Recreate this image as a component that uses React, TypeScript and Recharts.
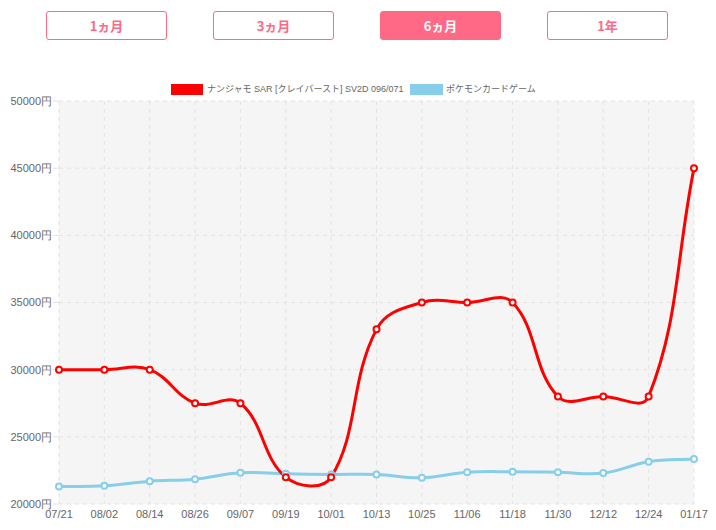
import React from 'react';
import { LineChart, Line, XAxis, YAxis, CartesianGrid } from 'recharts';

const dates = ['07/21', '08/02', '08/14', '08/26', '09/07', '09/19', '10/01', '10/13', '10/25', '11/06', '11/18', '11/30', '12/12', '12/24', '01/17'];
const nanjamoPrices = [30000, 30000, 30000, 27500, 27500, 22000, 22000, 33000, 35000, 35000, 35000, 28000, 28000, 28000, 45000];
const pokecaIndex = [21300, 21350, 21700, 21850, 22330, 22250, 22200, 22200, 21960, 22360, 22400, 22360, 22300, 23150, 23350];
const yTicks = [20000, 25000, 30000, 35000, 40000, 45000, 50000];
const periodButtons = ['1ヵ月', '3ヵ月', '6ヵ月', '1年'];
const activeButton = '6ヵ月';
const seriesNames = ['ナンジャモ SAR [クレイバースト] SV2D 096/071', 'ポケモンカードゲーム'];

const data = dates.map((d, i) => ({ date: d, nanjamo: nanjamoPrices[i], pokeca: pokecaIndex[i] }));

const PINK = '#ff6985';
const RED = '#ff0000';
const BLUE = '#87ceeb';

// Chart.js-style cardinal spline (tension 0.4)
function chartJsCurve(context: any) {
  let pts: number[][] = [];
  const t = 0.4;
  return {
    areaStart() {},
    areaEnd() {},
    lineStart() { pts = []; },
    point(x: number, y: number) { pts.push([+x, +y]); },
    lineEnd() {
      const n = pts.length;
      if (!n) return;
      context.moveTo(pts[0][0], pts[0][1]);
      if (n === 1) return;
      const cpPrev: number[][] = [];
      const cpNext: number[][] = [];
      for (let i = 0; i < n; i++) {
        const cur = pts[i];
        const prev = i > 0 ? pts[i - 1] : cur;
        const next = i < n - 1 ? pts[i + 1] : cur;
        const d01 = Math.hypot(cur[0] - prev[0], cur[1] - prev[1]);
        const d12 = Math.hypot(next[0] - cur[0], next[1] - cur[1]);
        let s01 = d01 / (d01 + d12);
        let s12 = d12 / (d01 + d12);
        if (isNaN(s01)) s01 = 0;
        if (isNaN(s12)) s12 = 0;
        const fa = t * s01;
        const fb = t * s12;
        cpPrev.push([cur[0] - fa * (next[0] - prev[0]), cur[1] - fa * (next[1] - prev[1])]);
        cpNext.push([cur[0] + fb * (next[0] - prev[0]), cur[1] + fb * (next[1] - prev[1])]);
      }
      for (let i = 0; i < n - 1; i++) {
        context.bezierCurveTo(cpNext[i][0], cpNext[i][1], cpPrev[i + 1][0], cpPrev[i + 1][1], pts[i + 1][0], pts[i + 1][1]);
      }
    },
  };
}

const tickStyle = { fill: '#666', fontSize: 11, fontFamily: '"Liberation Sans", Arial, sans-serif' };
const legendTextStyle: React.CSSProperties = {
  position: 'absolute',
  top: 83,
  fontSize: 9,
  color: '#666',
  lineHeight: '13px',
  whiteSpace: 'nowrap',
  fontFamily: '"Liberation Sans", Arial, "Noto Sans CJK JP", sans-serif',
};

export default function App() {
  return (
    <div style={{ position: 'absolute', left: 0, top: 0, width: 716, height: 530, background: '#fff', fontFamily: '"Liberation Sans", Arial, "Noto Sans CJK JP", sans-serif' }}>
      {periodButtons.map((b, i) => {
        const active = b === activeButton;
        return (
          <div
            key={b}
            style={{
              position: 'absolute',
              left: 46 + i * 167,
              top: 11,
              width: 121,
              height: 29,
              boxSizing: 'border-box',
              border: `1px solid ${PINK}`,
              borderRadius: 3,
              background: active ? PINK : '#fff',
              color: active ? '#fff' : PINK,
              fontWeight: 'bold',
              fontSize: 13,
              fontFamily: '"Noto Sans CJK JP", sans-serif',
              display: 'flex',
              alignItems: 'center',
              justifyContent: 'center',
            }}
          >
            {b}
          </div>
        );
      })}
      <div style={{ position: 'absolute', left: 171, top: 84, width: 32, height: 11, background: RED }} />
      <div style={{ ...legendTextStyle, left: 207 }}>{seriesNames[0]}</div>
      <div style={{ position: 'absolute', left: 410, top: 84, width: 33, height: 11, background: BLUE }} />
      <div style={{ ...legendTextStyle, left: 446 }}>{seriesNames[1]}</div>
      <div style={{ position: 'absolute', left: 0, top: 0 }}>
        <LineChart width={716} height={530} data={data} margin={{ top: 101, right: 22, bottom: 0, left: 0 }}>
          <CartesianGrid stroke="#e3e3e3" strokeDasharray="4 4" fill="#f5f5f5" />
          <XAxis
            dataKey="date"
            interval={0}
            axisLine={false}
            tickLine={false}
            tickSize={0}
            tickMargin={6}
            height={26}
            tick={tickStyle}
            padding={{ left: 0, right: 0 }}
          />
          <YAxis
            domain={[20000, 50000]}
            ticks={yTicks}
            interval={0}
            width={59}
            axisLine={false}
            tickLine={{ stroke: '#e3e3e3' }}
            tickSize={6}
            tickMargin={1}
            tick={tickStyle}
            tickFormatter={(v: number) => `${v}円`}
          />
          <Line
            dataKey="pokeca"
            type={chartJsCurve as any}
            stroke={BLUE}
            strokeWidth={3}
            dot={{ r: 3, fill: '#fff', stroke: BLUE, strokeWidth: 2 }}
            activeDot={false}
            isAnimationActive={false}
          />
          <Line
            dataKey="nanjamo"
            type={chartJsCurve as any}
            stroke={RED}
            strokeWidth={3}
            dot={{ r: 3, fill: '#fff', stroke: RED, strokeWidth: 2 }}
            activeDot={false}
            isAnimationActive={false}
          />
        </LineChart>
      </div>
    </div>
  );
}
